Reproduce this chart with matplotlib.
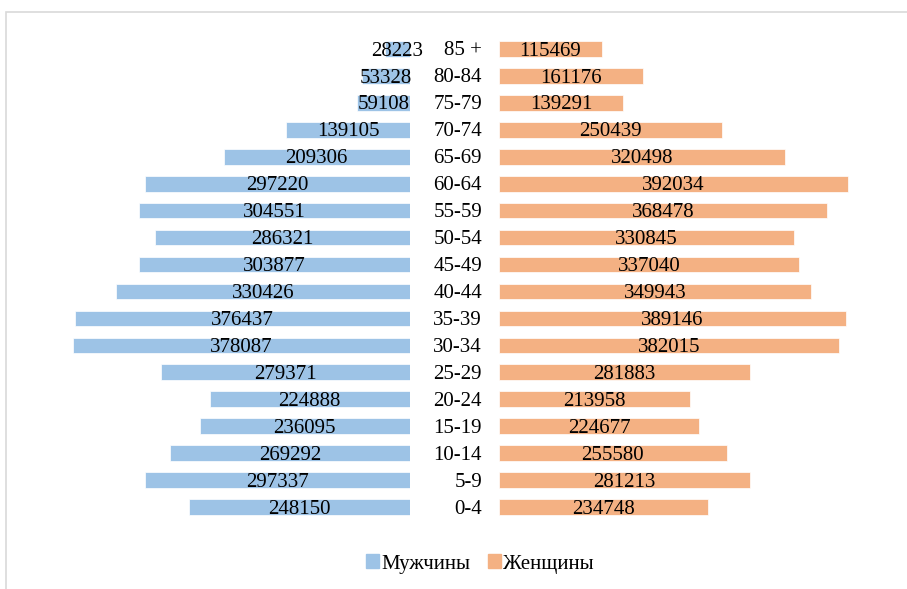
import matplotlib.pyplot as plt
from matplotlib.patches import Rectangle, Patch

ages = ["0-4", "5-9", "10-14", "15-19", "20-24", "25-29", "30-34", "35-39", "40-44",
        "45-49", "50-54", "55-59", "60-64", "65-69", "70-74", "75-79", "80-84", "85 +"]
men = [248150, 297337, 269292, 236095, 224888, 279371, 378087, 376437, 330426,
       303877, 286321, 304551, 297220, 209306, 139105, 59108, 53328, 28223]
women = [234748, 281213, 255580, 224677, 213958, 281883, 382015, 389146, 349943,
         337040, 330845, 368478, 392034, 320498, 250439, 139291, 161176, 115469]

blue = "#9DC3E6"
orange = "#F4B183"

plt.rcParams["font.family"] = ["Liberation Serif", "DejaVu Serif"]
fs = 15

W, H = 907, 589
fig = plt.figure(figsize=(W / 100, H / 100), dpi=100)

# chart frame (left and top edges visible)
fig.patches.append(Rectangle((6 / W, -0.05), 1.0, 1.05 - 11.5 / H, transform=fig.transFigure,
                             fill=False, edgecolor="#D9D9D9", linewidth=1.2))

xmax = 400000
px = 0.000891  # pixels per person
wpx = xmax * px
bottom = (H - 520.5) / H
height = 485 / H

ax_l = fig.add_axes([(410 - wpx) / W, bottom, wpx / W, height])
ax_r = fig.add_axes([499 / W, bottom, wpx / W, height])

y = list(range(len(ages)))
bl = ax_l.barh(y, men, height=0.58, color=blue, edgecolor="white", linewidth=0.5)
br = ax_r.barh(y, women, height=0.58, color=orange, edgecolor="white", linewidth=0.5)
ax_l.set_xlim(xmax, 0)
ax_r.set_xlim(0, xmax)

for ax, bars in ((ax_l, bl), (ax_r, br)):
    ax.set_ylim(-0.5, len(ages) - 0.5)
    ax.axis("off")
    for t in ax.bar_label(bars, label_type="center", fontsize=fs, color="black"):
        t.xyann = (0, -1.5)

for i, a in enumerate(ages):
    ax_l.annotate(a, xy=(1, i), xycoords=("axes fraction", "data"),
                  xytext=(72, -2), textcoords="offset pixels",
                  ha="right", va="center", fontsize=fs)

handles = [Patch(color=blue, label="Мужчины"), Patch(color=orange, label="Женщины")]
fig.legend(handles=handles, loc="center", bbox_to_anchor=(480 / W, 1 - 564 / H), ncol=2,
           frameon=False, fontsize=fs, handlelength=0.62, handleheight=0.62,
           handletextpad=0.1, columnspacing=0.85, borderpad=0)

fig.savefig("out.png", dpi=100)
